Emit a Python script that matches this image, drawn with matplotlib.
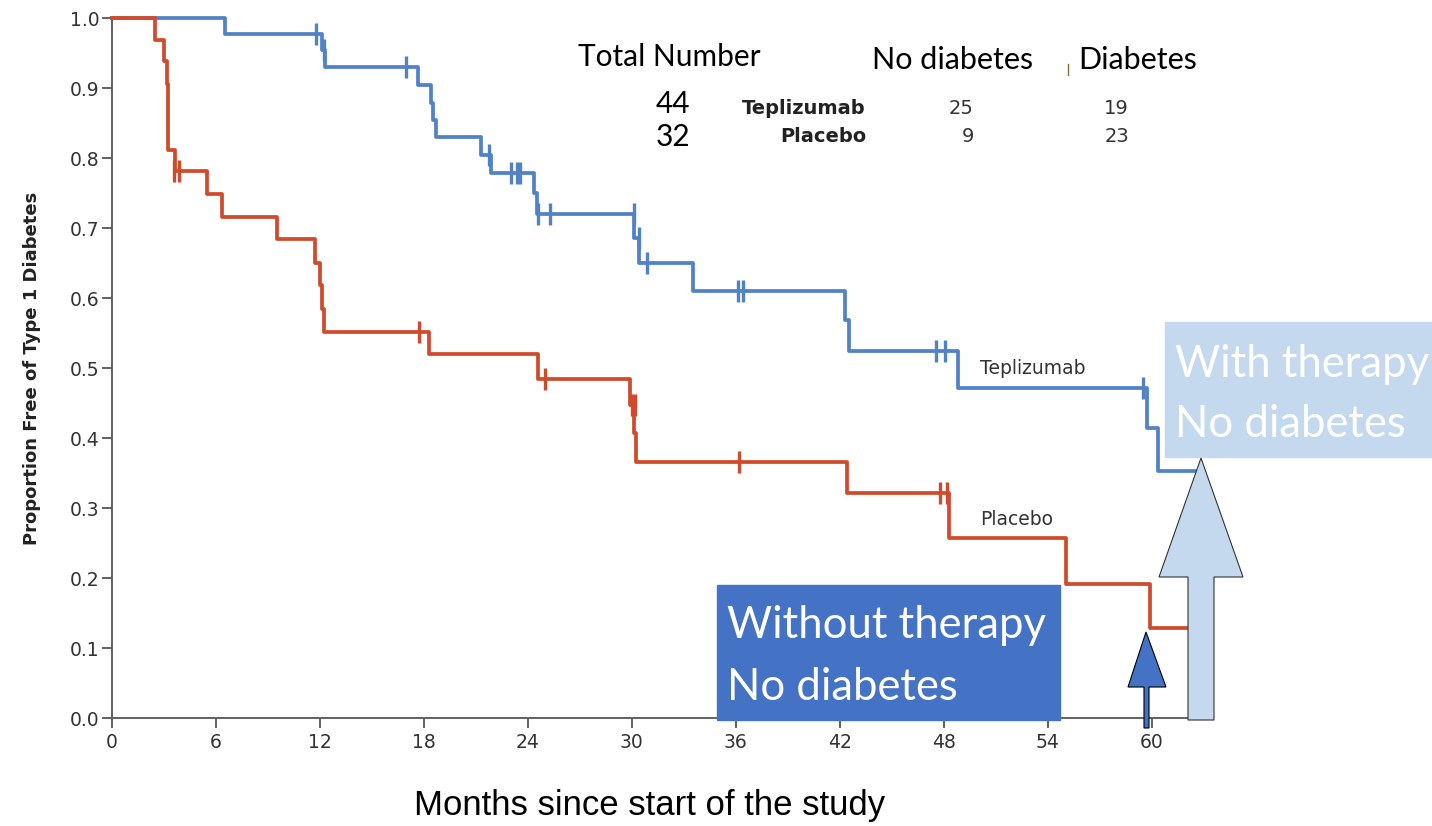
import matplotlib
matplotlib.use('Agg')
import matplotlib.pyplot as plt
import matplotlib.patches as patches

# Kaplan-Meier steps (months, proportion free of T1D)
tep_t = [0, 6.5, 12.1, 12.3, 17.65, 18.4, 18.5, 18.7, 21.3, 21.9, 24.35, 24.55,
         30.15, 30.4, 33.55, 42.3, 42.55, 48.8, 59.74, 60.36, 62.6]
tep_s = [1.0, 0.977, 0.955, 0.93, 0.904, 0.878, 0.854, 0.83, 0.804, 0.778, 0.75, 0.72,
         0.686, 0.65, 0.61, 0.568, 0.524, 0.471, 0.415, 0.353, 0.353]
tep_cens_t = [11.75, 12.25, 16.96, 21.75, 23.0, 23.4, 23.55, 24.6, 25.3, 30.15,
              30.4, 30.9, 36.1, 36.4, 47.55, 48.1, 59.5]
tep_cens_s = [0.977, 0.955, 0.93, 0.804, 0.778, 0.778, 0.778, 0.72, 0.72, 0.72,
              0.686, 0.65, 0.61, 0.61, 0.524, 0.524, 0.471]

pla_t = [0, 2.5, 3.0, 3.15, 3.25, 3.65, 5.5, 6.35, 9.55, 11.7, 12.0, 12.1, 12.25,
         18.27, 24.57, 29.9, 30.1, 30.25, 42.4, 48.3, 55.07, 59.9, 62.0]
pla_s = [1.0, 0.969, 0.938, 0.906, 0.812, 0.781, 0.748, 0.716, 0.684, 0.65, 0.619,
         0.585, 0.552, 0.52, 0.484, 0.447, 0.407, 0.366, 0.321, 0.257, 0.192, 0.128, 0.128]
pla_cens_t = [3.6, 3.85, 17.7, 25.0, 30.0, 30.2, 36.2, 47.8, 48.2]
pla_cens_s = [0.781, 0.781, 0.552, 0.484, 0.447, 0.447, 0.366, 0.321, 0.321]

x_ticks = [0, 6, 12, 18, 24, 30, 36, 42, 48, 54, 60]
y_ticks = [0.0, 0.1, 0.2, 0.3, 0.4, 0.5, 0.6, 0.7, 0.8, 0.9, 1.0]

groups = ['Teplizumab', 'Placebo']
totals = [44, 32]
no_diab = [25, 9]
diab = [19, 23]

blue = '#5282c6'
red = '#d04b2c'
dark_box = '#4472c4'
light_box = '#c5d9ee'
txt = '#333333'

fig = plt.figure(figsize=(14.32, 8.26), dpi=100)
ax = fig.add_axes([112/1432, 108/826, 1076/1432, 700/826])

ax.step(tep_t, tep_s, where='post', color=blue, lw=2.7, clip_on=False, zorder=3)
ax.step(pla_t, pla_s, where='post', color=red, lw=2.7, clip_on=False, zorder=3)
ax.plot(tep_cens_t, tep_cens_s, '|', color=blue, ms=16, mew=2.4, clip_on=False, zorder=3)
ax.plot(pla_cens_t, pla_cens_s, '|', color=red, ms=16, mew=2.4, clip_on=False, zorder=3)

ax.text(50.1, 0.50, 'Teplizumab', fontsize=13.5, color=txt, va='center', ha='left')
ax.text(50.1, 0.284, 'Placebo', fontsize=13.5, color=txt, va='center', ha='left')

ax.set_xlim(0, 62.1)
ax.set_ylim(0, 1.0)
ax.set_xticks(x_ticks)
ax.set_yticks(y_ticks)
ax.set_yticklabels(['%.1f' % v for v in y_ticks])
ax.tick_params(direction='out', length=7, width=1.3, color='#555555',
               labelsize=13.5, labelcolor=txt)
ax.tick_params(axis='x', pad=4)
ax.tick_params(axis='y', pad=2)
for s in ['top', 'right']:
	ax.spines[s].set_visible(False)
for s in ['left', 'bottom']:
	ax.spines[s].set_color('#555555')
	ax.spines[s].set_linewidth(1.3)

ax.set_ylabel('Proportion Free of Type 1 Diabetes', fontsize=13, fontweight='bold',
              family=['Liberation Sans Narrow', 'DejaVu Sans'], color='#222222')
ax.yaxis.set_label_coords(-0.066, 0.5)
fig.text(650/1432, 1 - 806/826, 'Months since start of the study', fontsize=25,
         family='Liberation Sans', ha='center', va='center')

# overlay in pixel coordinates for table, boxes and arrows
ov = fig.add_axes([0, 0, 1, 1], zorder=5)
ov.set_xlim(0, 1432)
ov.set_ylim(826, 0)
ov.axis('off')
ov.patch.set_visible(False)

cal = ['Lato', 'DejaVu Sans']
ov.text(578, 57, 'Total Number', fontsize=21.5, family=cal, va='center', ha='left')
ov.text(872, 60, 'No diabetes', fontsize=22, family=cal, va='center', ha='left')
ov.text(1078, 60, 'Diabetes', fontsize=22, family=cal, va='center', ha='left')
ov.plot([1068, 1068], [64, 75], color='#8b6a3a', lw=1)
rows_y = [104, 137]
for i in range(len(groups)):
	ov.text(690, rows_y[i], str(totals[i]), fontsize=21.5, family=cal, va='center', ha='right')
	ov.text(866, rows_y[i] + 4 - 4 * i, groups[i], fontsize=14, fontweight='bold',
	        family=['Liberation Sans Narrow', 'DejaVu Sans'], color='#222222', va='center', ha='right')
	ov.text(974, rows_y[i] + 4 - 4 * i, str(no_diab[i]), fontsize=14, color=txt,
	        family=['Liberation Sans Narrow', 'DejaVu Sans'], va='center', ha='right')
	ov.text(1129, rows_y[i] + 4 - 4 * i, str(diab[i]), fontsize=14, color=txt,
	        family=['Liberation Sans Narrow', 'DejaVu Sans'], va='center', ha='right')

ov.add_patch(patches.Rectangle((717, 585), 343, 135, color=dark_box, zorder=6))
ov.text(727, 638, 'Without therapy', fontsize=31.4, family=cal, color='white', va='baseline', zorder=7)
ov.text(727, 700, 'No diabetes', fontsize=31.4, family=cal, color='white', va='baseline', zorder=7)

ov.add_patch(patches.Rectangle((1165, 322), 267, 135, color=light_box, zorder=6))
ov.text(1175, 377, 'With therapy', fontsize=31.4, family=cal, color='white', va='baseline', zorder=7)
ov.text(1175, 437, 'No diabetes', fontsize=31.4, family=cal, color='white', va='baseline', zorder=7)

small_arrow = [(1146, 632), (1166, 687), (1149, 687), (1149, 728), (1144, 728), (1144, 687), (1128, 687)]
ov.add_patch(patches.Polygon(small_arrow, closed=True, fc=dark_box, ec='black', lw=0.8, zorder=6))
big_arrow = [(1201, 458), (1243, 577), (1214, 577), (1214, 720), (1188, 720), (1188, 577), (1159, 577)]
ov.add_patch(patches.Polygon(big_arrow, closed=True, fc=light_box, ec='#333333', lw=0.8, zorder=6))

fig.savefig('out.png', dpi=100)
